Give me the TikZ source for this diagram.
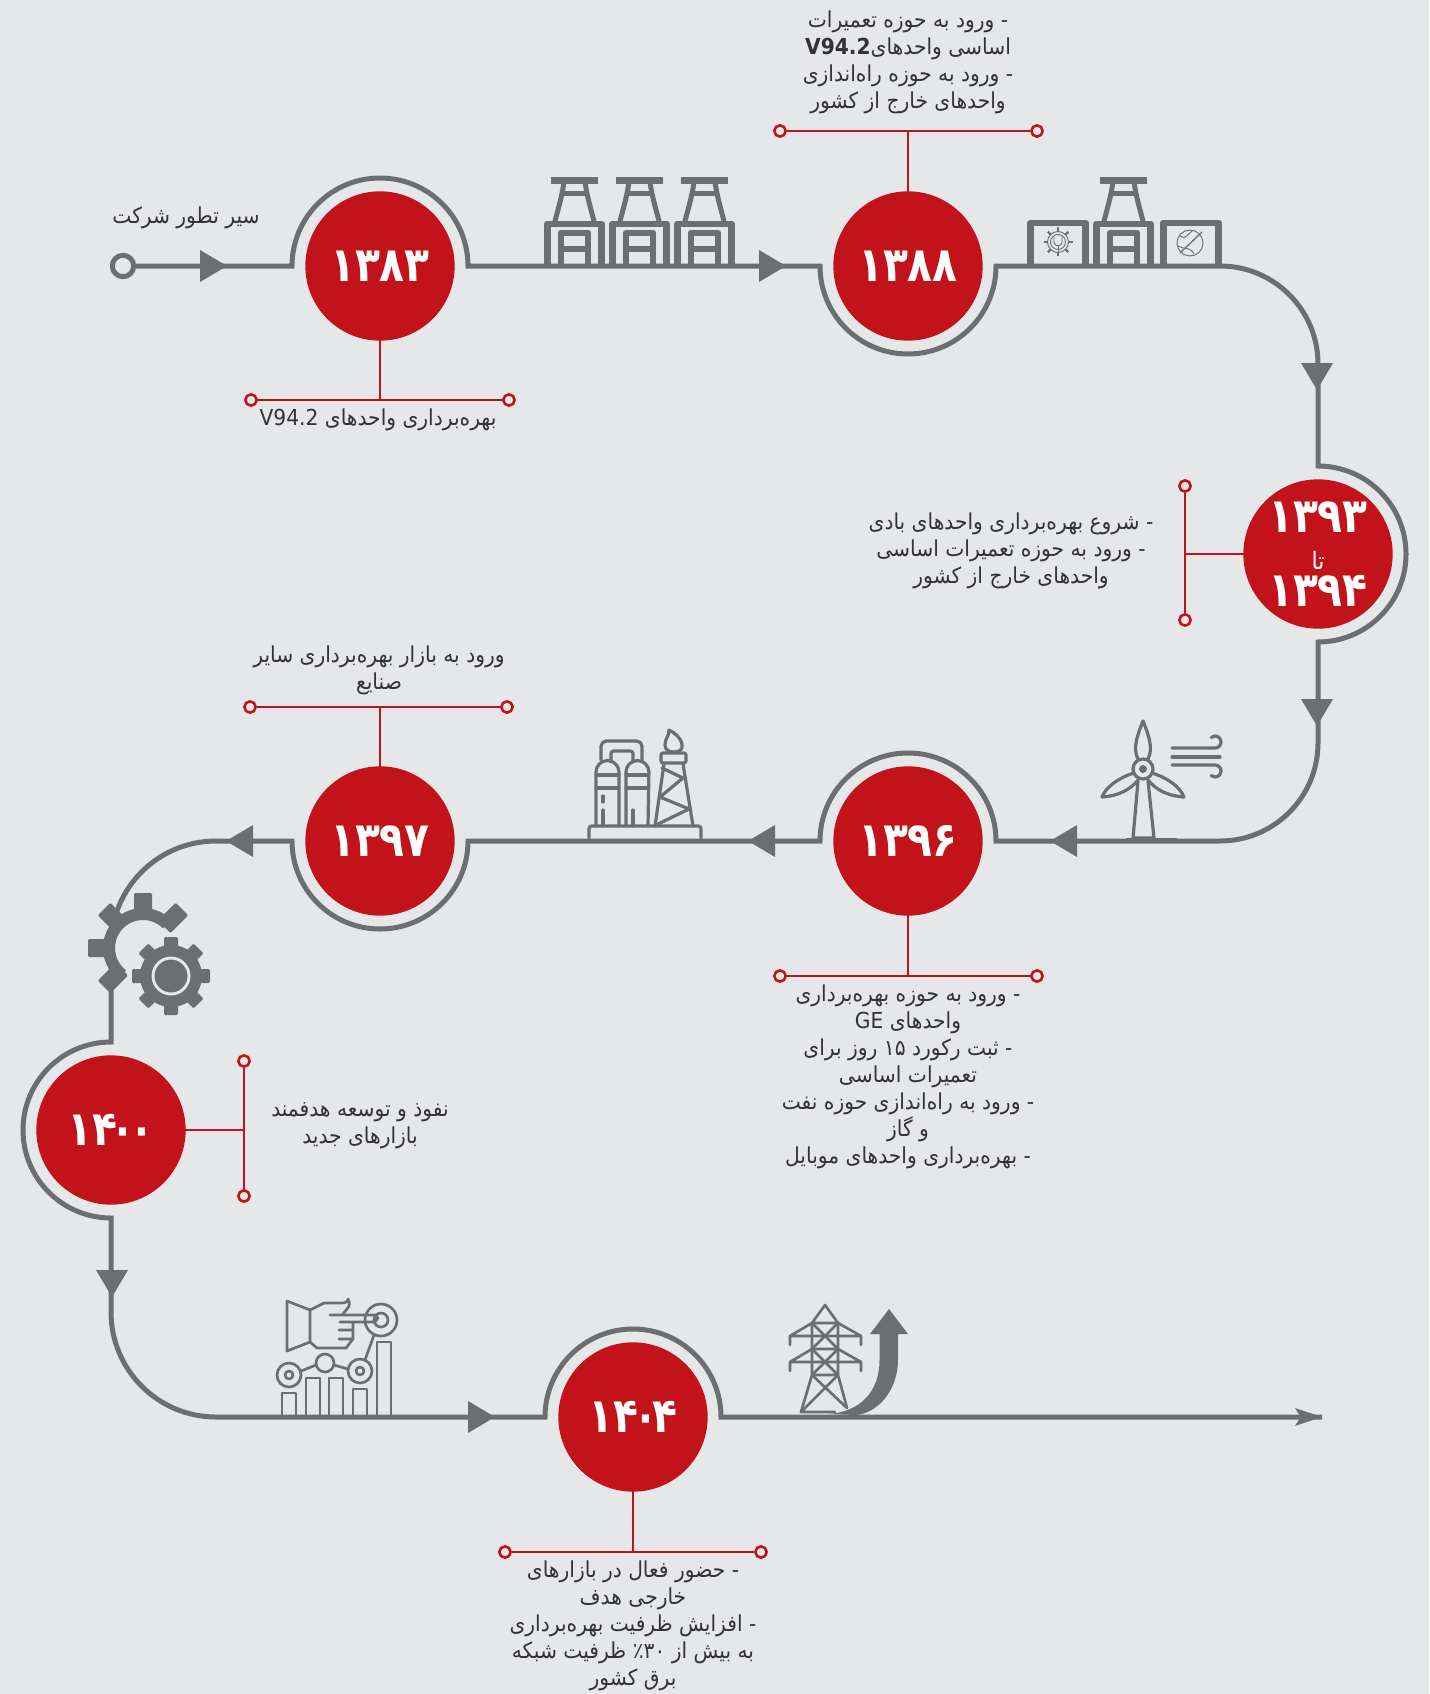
\documentclass[tikz,border=0pt]{standalone}
\usepackage{fontspec}
\usetikzlibrary{arrows.meta,calc}
\TeXXeTstate=1
\newfontfamily\arabicfont[Script=Arabic,FakeStretch=0.92]{DejaVu Sans}
\newfontfamily\yearfont[Script=Arabic,FakeStretch=0.85]{DejaVu Sans}
\definecolor{bgcolor}{HTML}{E6E7E9}
\definecolor{redcolor}{HTML}{C2131A}
\definecolor{graycolor}{HTML}{6D6E71}
\definecolor{textcolor}{HTML}{333335}
\tikzset{
	plant/.pic={
		\draw[icon,line width=5pt,line cap=butt] (3.5,0) -- (3.5,-42) -- (57.5,-42) -- (57.5,0);
		\draw[icon,line width=5pt,line cap=butt] (17,0) -- (17,-33) -- (44,-33) -- (44,0);
		\draw[icon,line width=5pt,line cap=butt] (17,-17) -- (44,-17);
		\draw[icon,line width=3.75pt] (11,-45) .. controls (15,-60) and (18,-70) .. (20,-84);
		\draw[icon,line width=3.75pt] (50,-45) .. controls (46,-60) and (43,-70) .. (41,-84);
		\draw[icon,line width=3.75pt,line cap=butt] (18,-72) -- (43,-72);
		\fill[graycolor] (7,-82) rectangle (54,-89);
	},
}
\begin{document}
\begin{tikzpicture}[x=0.75pt,y=-0.75pt,
	year/.style={circle,fill=redcolor,text=white,minimum size=112pt,inner sep=0pt,font=\yearfont\bfseries\fontsize{36}{26}\selectfont,align=center},
	ring/.style={circle,minimum size=132pt,inner sep=0pt,outer sep=0pt},
	cir/.style={circle,draw=redcolor,fill=bgcolor,line width=1.9pt,minimum size=8.5pt,inner sep=0pt},
	redline/.style={draw=redcolor,line width=1.9pt},
	flow/.style={draw=graycolor,line width=3.75pt},
	flowtip/.style={fill=graycolor},
	icon/.style={draw=graycolor,line width=2.4pt,line join=round,line cap=round},
	thinicon/.style={draw=graycolor,line width=0.7pt},
	info/.style={text=textcolor,align=center,font=\arabicfont\fontsize{16.5}{20.25}\selectfont}]
	\useasboundingbox (0,0) rectangle (1429,1694);
	\fill[bgcolor] (0,0) rectangle (1429,1694);
	%%
	\node[ring] (r1) at (380,266) {};
	\node[ring] (r2) at (908,266) {};
	\node[ring] (r3) at (1318,554) {};
	\node[ring] (r4) at (908,841) {};
	\node[ring] (r5) at (380,841) {};
	\node[ring] (r6) at (111,1130) {};
	\node[ring] (r7) at (633,1417) {};
	\node[circle,draw=graycolor,fill=bgcolor,line width=3.75pt,minimum size=16pt,inner sep=0pt] (start) at (123,266) {};
	\coordinate (end) at (1322,1417);
	%%
	\draw[flow] (start) -- (r1.west) arc[start angle=180,end angle=0,radius=66pt] -- (r2.west) arc[start angle=180,end angle=360,radius=66pt]
		-- (1220,266) arc[start angle=90,end angle=0,radius=73.5pt] -- (r3.north) arc[start angle=90,end angle=-90,radius=66pt]
		-- (1318,743) arc[start angle=0,end angle=-90,radius=73.5pt] -- (r4.east) arc[start angle=0,end angle=180,radius=66pt]
		-- (r5.east) arc[start angle=360,end angle=180,radius=66pt] -- (216,841) arc[start angle=90,end angle=180,radius=78.75pt]
		-- (r6.north) arc[start angle=90,end angle=270,radius=66pt] -- (111,1312) arc[start angle=180,end angle=270,radius=78.75pt]
		-- (r7.west) arc[start angle=180,end angle=0,radius=66pt] -- (end);
	\draw[-{Stealth[length=20pt,width=13pt,inset=4pt]},draw=graycolor,fill=graycolor,line width=2.6pt] (1270,1417) -- (end);
	%%
	\foreach \x/\y/\r in {200/266/0,759/266/0,1317/363/-90,1317/699/-90,1077/841/180,775/841/180,253/841/180,112/1270/-90,468/1417/0} {
		\fill[flowtip,shift={(\x,\y)},rotate=\r] (0,-16) -- (27,0) -- (0,16) -- cycle;
	}
	%%
	\node[cir] (a1) at (251,400) {};
	\node[cir] (b1) at (509,400) {};
	\node[cir] (a2) at (780,131) {};
	\node[cir] (b2) at (1037,131) {};
	\node[cir] (a3) at (1185,486) {};
	\node[cir] (b3) at (1185,620) {};
	\node[cir] (a4) at (780,976) {};
	\node[cir] (b4) at (1037,976) {};
	\node[cir] (a5) at (250,707) {};
	\node[cir] (b5) at (507,707) {};
	\node[cir] (a6) at (244,1061) {};
	\node[cir] (b6) at (244,1196) {};
	\node[cir] (a7) at (505,1552) {};
	\node[cir] (b7) at (761,1552) {};
	\foreach \i in {1,...,7} {
		\draw[redline] (a\i) -- (b\i);
	}
	\draw[redline] (r1.center) -- (r1.center |- a1);
	\draw[redline] (r2.center) -- (r2.center |- a2);
	\draw[redline] (r3.center) -- (a3 |- r3.center);
	\draw[redline] (r4.center) -- (r4.center |- a4);
	\draw[redline] (r5.center) -- (r5.center |- a5);
	\draw[redline] (r6.center) -- (a6 |- r6.center);
	\draw[redline] (r7.center) -- (r7.center |- a7);
	%%
	\node[year] (y1) at (r1) {۱۳۸۳};
	\node[year] (y2) at (r2) {۱۳۸۸};
	\node[year] (y3) at (r3) {۱۳۹۳\\[2pt]{\arabicfont\mdseries\fontsize{18}{20}\selectfont تا}\\[2pt]۱۳۹۴};
	\node[year] (y4) at (r4) {۱۳۹۶};
	\node[year] (y5) at (r5) {۱۳۹۷};
	\node[year] (y6) at (r6) {۱۴\kern-5pt۰\kern-5pt۰};
	\node[year] (y7) at (r7) {۱۴\kern-4pt۰\kern-4pt۴};
	%%
	\node[info] (t0) at (186,218) {\beginR سیر تطور شرکت\endR};
	\node[info] (t1) at (378,420) {\beginR بهره‌برداری واحدهای \beginL V94.2\endL\endR};
	\node[info] (t2) at (908,62) {\beginR - ورود به حوزه تعمیرات\endR\\\beginR اساسی واحدهای\beginL\textbf{V94.2}\endL\endR\\\beginR - ورود به حوزه راه‌اندازی\endR\\\beginR واحدهای خارج از کشور\endR};
	\node[info] (t3) at (1011,551) {\beginR - شروع بهره‌برداری واحدهای بادی\endR\\\beginR - ورود به حوزه تعمیرات اساسی\endR\\\beginR واحدهای خارج از کشور\endR};
	\node[info] (t4) at (908,1077) {\beginR - ورود به حوزه بهره‌برداری\endR\\\beginR واحدهای \beginL GE\endL\endR\\\beginR - ثبت رکورد \beginL ۱۵\endL{} روز برای\endR\\\beginR تعمیرات اساسی\endR\\\beginR - ورود به راه‌اندازی حوزه نفت\endR\\\beginR و گاز\endR\\\beginR - بهره‌برداری واحدهای موبایل\endR};
	\node[info] (t5) at (379,670) {\beginR ورود به بازار بهره‌برداری سایر\endR\\\beginR صنایع\endR};
	\node[info] (t6) at (360,1126) {\beginR نفوذ و توسعه هدفمند\endR\\\beginR بازارهای جدید\endR};
	\node[info] (t7) at (633,1626) {\beginR - حضور فعال در بازارهای\endR\\\beginR خارجی هدف\endR\\\beginR - افزایش ظرفیت بهره‌برداری\endR\\\beginR به بیش از \beginL ۳۰\endL٪ ظرفیت شبکه\endR\\\beginR برق کشور\endR};
	%%
	\foreach \x in {544,609,674,1093} {
		\pic at (\x,266) {plant};
	}
	%% side boxes
	\draw[icon,line width=5pt,line cap=butt] (1030.5,266) -- (1030.5,223) -- (1085.5,223) -- (1085.5,266);
	\draw[icon,line width=5pt,line cap=butt] (1163.5,266) -- (1163.5,223) -- (1218.5,223) -- (1218.5,266);
	\draw[thinicon] (1058,242) circle[radius=10.5];
	\draw[thinicon] (1058,242) circle[radius=7.5];
	\foreach \a in {0,45,...,315} {
		\draw[graycolor,line width=1.6pt,shift={(1058,242)},rotate=\a] (10.5,0) -- (14.5,0);
	}
	\draw[thinicon] (1054,237) -- (1054,242) arc[start angle=180,end angle=360,radius=3pt] -- (1062,237);
	\draw[thinicon] (1058,246) -- (1058,253);
	\draw[thinicon] (1190,243) circle[radius=13];
	\draw[thinicon] (1180,236) .. controls (1186,240) and (1188,234) .. (1192,231);
	\draw[thinicon] (1178,246) .. controls (1184,250) and (1190,246) .. (1194,254);
	\draw[graycolor,line width=1pt] (1180,253) -- (1202,232);
	%% wind turbine
	\draw[icon] (1143,721) .. controls (1133,745) and (1135,752) .. (1138,759);
	\draw[icon] (1143,721) .. controls (1153,745) and (1151,752) .. (1148,759);
	\draw[icon] (1134,773) .. controls (1118,778) and (1106,787) .. (1102,797) .. controls (1118,796) and (1130,790) .. (1138,780);
	\draw[icon] (1152,773) .. controls (1168,778) and (1180,787) .. (1184,797) .. controls (1168,796) and (1156,790) .. (1148,780);
	\draw[icon] (1143,769) circle[radius=10];
	\fill[graycolor] (1143,769) circle[radius=4];
	\draw[icon] (1138,781) -- (1133,838) -- (1154,838) -- (1148,781);
	\draw[icon] (1127,840) -- (1176,840);
	\draw[icon] (1172,748) -- (1215,748) arc[start angle=-90,end angle=130,radius=4.5pt];
	\draw[icon] (1172,757) -- (1220,757);
	\draw[icon] (1172,765) -- (1215,765) arc[start angle=90,end angle=-130,radius=4.5pt];
	%% refinery
	\draw[icon,rounded corners=2pt] (589,838) -- (589,826) -- (701,826) -- (701,838);
	\draw[icon] (596,826) -- (596,772) arc[start angle=180,end angle=0,radius=8.6pt] -- (619,826);
	\draw[icon] (626,826) -- (626,772) arc[start angle=180,end angle=0,radius=8.6pt] -- (648,826);
	\draw[icon] (596,775) -- (619,775) (596,788) -- (619,788) (626,775) -- (648,775) (626,788) -- (648,788);
	\draw[icon] (603,796) -- (603,802) (603,810) -- (603,826) (633,810) -- (633,826);
	\draw[icon,rounded corners=4pt] (601,760) -- (601,741) -- (642,741) -- (642,760);
	\draw[icon,rounded corners=2pt] (611,762) -- (611,751) -- (633,751) -- (633,762);
	\draw[icon] (664,764) -- (655,826) (683,764) -- (693,826);
	\draw[icon] (662,768) -- (683,778) -- (660,797) -- (689,809) -- (656,825);
	\draw[icon,rounded corners=1.5pt] (661,763) rectangle (686,753);
	\draw[icon] (669,730) .. controls (669,737) and (665,738) .. (665,745) .. controls (665,750) and (669,752) .. (674,752) .. controls (679,752) and (683,750) .. (682,744) .. controls (681,738) and (675,733) .. cycle;
	%% gears
	\draw[graycolor,line width=9pt] (143,948) ++(45:25.5pt) arc[start angle=45,end angle=232,radius=25.5pt];
	\foreach \a in {45,90,135,180,225} {
		\fill[graycolor,rounded corners=1pt,shift={(143,948)},rotate=\a] (30,-9) rectangle (55,9);
	}
	\fill[graycolor] (171,976) circle[radius=31];
	\foreach \a in {0,45,...,315} {
		\fill[graycolor,rounded corners=1pt,shift={(171,976)},rotate=\a] (26,-7) rectangle (39,7);
	}
	\draw[bgcolor,line width=2.2pt] (171,976) circle[radius=18];
	%% hand and chart
	\foreach \x/\y in {282/1393,306/1378,329/1378,353/1389,377/1342} {
		\draw[icon,line width=2pt] (\x,1417) -- (\x,\y) -- ($(\x,\y)+(14,0)$) -- ($(\x,1417)+(14,0)$);
	}
	\draw[icon,line width=2pt] (289,1375) circle[radius=12] (360,1371) circle[radius=12] (325,1363) circle[radius=9] (381,1320) circle[radius=16] (381,1320) circle[radius=7];
	\draw[icon,line width=2pt] (289,1375) circle[radius=4] (360,1371) circle[radius=4];
	\draw[icon,line width=2pt] (301,1371) -- (316,1365) (334,1365) -- (348,1369) (365,1360) -- (374,1335);
	\draw[icon,line width=2pt] (287,1301) -- (310,1310) -- (310,1342) -- (287,1351) -- cycle;
	\draw[icon,line width=2pt] (310,1310) -- (324,1303) -- (341,1303) .. controls (345,1303) and (348,1302) .. (348,1299) .. controls (350,1303) and (350,1306) .. (347,1309) -- (342,1315) -- (330,1315) -- (375,1315) -- (378,1318) -- (375,1322) -- (340,1322) -- (353,1322) -- (353,1330) -- (339,1330) -- (353,1330) -- (353,1339) -- (339,1339) -- (353,1339) -- (346,1348) -- (317,1348) -- (310,1342);
	%% pylon
	\draw[icon,line width=2pt] (801,1412) -- (812,1375) -- (812,1323) -- (825,1305) -- (838,1323) -- (838,1375) -- (847,1408);
	\draw[icon,line width=2pt] (790,1345) -- (790,1336) -- (812,1323) -- (838,1323) -- (861,1336) -- (861,1345) (790,1336) -- (861,1336);
	\draw[icon,line width=2pt] (790,1371) -- (790,1362) -- (812,1349) -- (838,1349) -- (861,1362) -- (861,1371) (790,1362) -- (861,1362);
	\draw[icon,line width=2pt] (812,1375) -- (838,1375) (812,1323) -- (838,1349) (838,1323) -- (812,1349) (812,1349) -- (838,1375) (838,1349) -- (812,1375);
	\draw[icon,line width=2pt] (812,1375) -- (847,1408) (838,1375) -- (801,1412) (801,1412) -- (835,1412);
	\fill[graycolor] (889,1309) -- (908,1334) -- (898,1334) -- (898,1360) .. controls (898,1385) and (883,1411) .. (857,1415) -- (828,1414) .. controls (860,1412) and (879.5,1392) .. (879.5,1360) -- (879.5,1334) -- (870,1334) -- cycle;
\end{tikzpicture}
\end{document}
